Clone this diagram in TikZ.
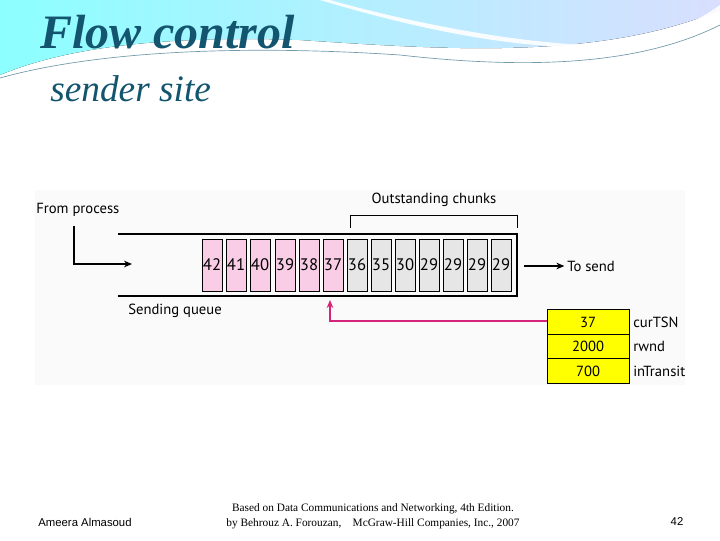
\documentclass[tikz,border=0pt]{standalone}
\usepackage{fontspec}
\setmainfont{Liberation Serif}
\newfontfamily\figfont{PT Sans}
\newfontfamily\footfont{Liberation Sans}
\usetikzlibrary{arrows.meta}
\definecolor{teal}{HTML}{13556F}
\definecolor{pinkc}{HTML}{F9CDE6}
\definecolor{grayc}{HTML}{E6E6E6}
\definecolor{magl}{HTML}{D6247A}
\definecolor{yel}{HTML}{FFFF00}
\begin{document}
\begin{tikzpicture}[x=0.75pt,y=-0.75pt,
  cellp/.style={draw=black,line width=0.6pt,fill=pinkc,minimum width=15pt,minimum height=39pt,inner sep=0pt,font=\figfont\fontsize{12.5}{13}\selectfont},
  cellg/.style={cellp,fill=grayc},
  ybox/.style={draw=black,line width=0.6pt,fill=yel,minimum width=61.5pt,minimum height=18.5pt,inner sep=0pt,font=\figfont\fontsize{11}{12}\selectfont},
  lab/.style={font=\figfont\fontsize{11}{12}\selectfont,inner sep=0pt},
  arr/.style={-{Stealth[length=6pt,width=5pt]},line width=1pt}]
\useasboundingbox (0,0) rectangle (720,540);
\fill[white] (0,0) rectangle (720,540);
% background swoosh
\fill[left color=cyan!45!white,right color=cyan!15!blue!15!white] (0,0) -- (720,0) -- (720,10) .. controls (600,60) and (450,50) .. (300,40) .. controls (150,35) and (60,50) .. (0,75) -- cycle;
\fill[white,opacity=0.9] (330,0) .. controls (400,20) and (520,45) .. (600,45) .. controls (660,40) and (700,20) .. (720,5) -- (720,15) .. controls (650,60) and (520,60) .. (320,0) -- cycle;
\fill[white] (0,80) .. controls (100,50) and (250,45) .. (400,55) .. controls (550,75) and (650,60) .. (720,30) -- (720,60) -- (0,100) -- cycle;
\draw[teal!60,line width=0.5pt] (0,78) .. controls (100,50) and (250,45) .. (400,55) .. controls (550,72) and (650,60) .. (720,25);
\node[anchor=base west,inner sep=0pt,text=teal,font=\fontsize{36}{38}\selectfont\bfseries\itshape] (title) at (40,48) {Flow control};
\node[anchor=base west,inner sep=0pt,text=teal,font=\fontsize{28}{30}\selectfont\itshape] (sub) at (50,101) {sender site};
% panel
\fill[gray!4] (35,190) rectangle (685,385);
% queue
\draw[line width=1.2pt] (118,234) -- (517,234) -- (517,296) -- (118,296);
\foreach \v/\x in {42/212,41/236,40/260,39/285,38/309,37/333}
  \node[cellp] (c\x) at (\x,265) {\v};
\foreach \v/\x in {36/357,35/381,30/405,29/429,29/453,29/477,29/501}
  \node[cellg] (c\x) at (\x,265) {\v};
\draw[line width=0.6pt] (350,228) -- (350,215) -- (517,215) -- (517,228);
\node[lab] (out) at (434,200) {Outstanding chunks};
\node[lab,anchor=west] (fp) at (36,210) {From process};
\coordinate (fp1) at (74,226);
\coordinate (fp2) at (74,264);
\coordinate (fp3) at (132,264);
\draw[arr,line width=0.8pt] (fp1) -- (fp2) -- (fp3);
\coordinate (ts1) at (524,266);
\node[lab,anchor=west] (ts) at (567,266) {To send};
\draw[arr,line width=0.8pt] (ts1) -- ([xshift=-2pt]ts.west);
\node[lab,anchor=west] (sq) at (128,311) {Sending queue};
% yellow boxes
\node[ybox] (y1) at (588,322) {37};
\node[ybox] (y2) at (588,346.5) {2000};
\node[ybox] (y3) at (588,371) {700};
\node[lab,anchor=west] at (633,322) {curTSN};
\node[lab,anchor=west] at (633,346) {rwnd};
\node[lab,anchor=west] at (633,371) {inTransit};
\coordinate (m1) at (330,321);
\coordinate (m2) at (330,300);
\draw[arr,draw=magl,line width=1.3pt] (y1.west |- m1) -- (m1) -- (m2);
% footer
\node[font=\footfont\fontsize{8.5}{10}\selectfont] (au) at (85,522) {Ameera Almasoud};
\node[align=center,font=\fontsize{8.5}{11}\selectfont] (cr) at (373,516) {Based on Data Communications and Networking, 4th Edition.\\by Behrouz A. Forouzan,\quad McGraw-Hill Companies, Inc., 2007};
\node[font=\footfont\fontsize{8.5}{10}\selectfont] (pg) at (677,522) {42};
\end{tikzpicture}
\end{document}
